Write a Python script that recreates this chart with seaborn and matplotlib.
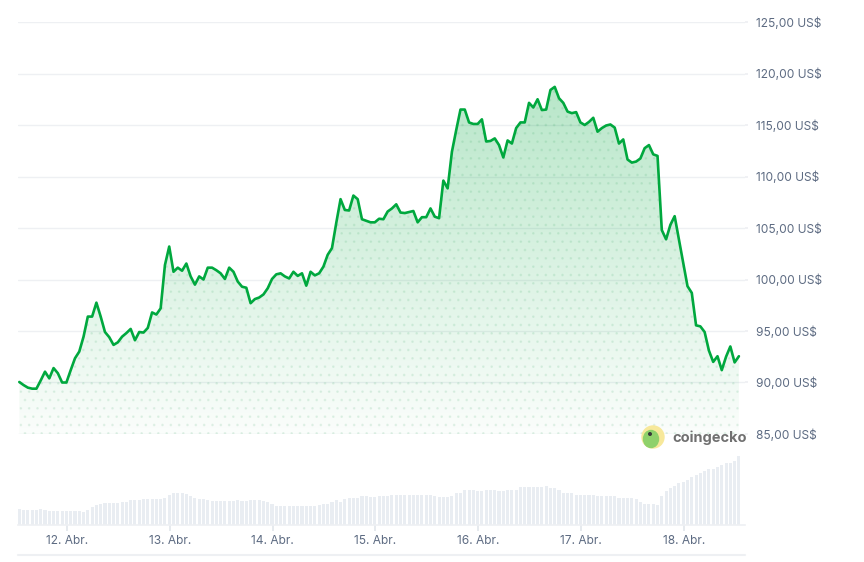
import numpy as np
import pandas as pd
import matplotlib
matplotlib.use("Agg")
import matplotlib.pyplot as plt
import seaborn as sns
from matplotlib.patches import Circle, Ellipse

# ---------------- data ----------------
start_day = 11.536  # day of April of the first hourly sample
price = [
    90.05, 89.75, 89.5, 89.4, 89.4, 90.2, 91.05, 90.4, 91.4, 90.9,
    90.0, 90.0, 91.2, 92.35, 93.0, 94.45, 96.4, 96.4, 97.75, 96.4,
    94.9, 94.4, 93.65, 93.9, 94.45, 94.8, 95.2, 94.1, 94.9, 94.85,
    95.3, 96.8, 96.6, 97.2, 101.4, 103.2, 100.75, 101.15, 100.85, 101.55,
    100.3, 99.5, 100.3, 100.0, 101.15, 101.15, 100.9, 100.6, 100.05, 101.15,
    100.75, 99.8, 99.3, 99.2, 97.7, 98.1, 98.25, 98.55, 99.15, 100.05,
    100.5, 100.6, 100.3, 100.1, 100.75, 100.35, 100.6, 99.4, 100.75, 100.4,
    100.6, 101.25, 102.4, 103.05, 105.5, 107.8, 106.75, 106.7, 108.15, 107.8,
    105.85, 105.7, 105.55, 105.55, 105.9, 105.85, 106.6, 106.9, 107.3, 106.5,
    106.45, 106.55, 106.65, 105.55, 106.05, 106.05, 106.9, 106.1, 105.95, 109.6,
    108.85, 112.4, 114.5, 116.5, 116.5, 115.25, 115.1, 115.1, 115.55, 113.4,
    113.45, 113.7, 113.05, 111.85, 113.5, 113.2, 114.7, 115.25, 115.25, 117.15,
    116.7, 117.5, 116.45, 116.5, 118.4, 118.7, 117.6, 117.15, 116.3, 116.15,
    116.25, 115.25, 115.0, 115.3, 115.7, 114.35, 114.7, 114.95, 115.05, 114.75,
    113.2, 113.6, 111.65, 111.35, 111.45, 111.75, 112.75, 113.05, 112.15, 112.0,
    104.8, 103.9, 105.3, 106.15, 103.9, 101.7, 99.35, 98.7, 95.55, 95.45,
    94.9, 93.1, 92.0, 92.55, 91.2, 92.5, 93.5, 91.95, 92.55,
]
volume = [
    16, 15, 15, 15, 15, 16, 15, 14, 14, 14,
    14, 14, 14, 14, 14, 13, 15, 18, 20, 21,
    22, 22, 22, 22, 23, 23, 25, 25, 25, 26,
    26, 26, 26, 26, 27, 30, 32, 32, 32, 31,
    29, 27, 26, 26, 25, 24, 24, 24, 24, 24,
    24, 25, 24, 24, 25, 25, 25, 24, 23, 21,
    19, 19, 19, 19, 19, 19, 19, 19, 19, 19,
    20, 21, 21, 23, 25, 23, 26, 27, 27, 27,
    29, 29, 28, 28, 29, 29, 29, 30, 30, 30,
    30, 30, 30, 30, 30, 30, 30, 29, 28, 28,
    28, 29, 32, 32, 35, 35, 35, 34, 34, 35,
    35, 35, 34, 34, 35, 35, 35, 38, 38, 38,
    38, 38, 38, 39, 37, 37, 35, 32, 32, 32,
    30, 30, 30, 30, 30, 29, 29, 29, 29, 29,
    27, 27, 27, 27, 26, 23, 21, 21, 21, 20,
    29, 34, 37, 39, 42, 43, 45, 48, 50, 52,
    54, 56, 56, 58, 60, 62, 62, 64, 69,
]
day_ticks = [12, 13, 14, 15, 16, 17, 18]
day_labels = ["12. Abr.", "13. Abr.", "14. Abr.", "15. Abr.", "16. Abr.", "17. Abr.", "18. Abr."]
price_ticks = [85, 90, 95, 100, 105, 110, 115, 120, 125]
price_labels = ["85,00 US$", "90,00 US$", "95,00 US$", "100,00 US$", "105,00 US$",
                "110,00 US$", "115,00 US$", "120,00 US$", "125,00 US$"]

n = min(len(price), len(volume))
t = start_day + np.arange(n) / 24.0
df = pd.DataFrame({"t": t, "price": price[:n], "volume": volume[:n]})

# ---------------- styling ----------------
sns.set_theme(style="white")
plt.rcParams["font.family"] = ["Inter", "DejaVu Sans"]
plt.rcParams["hatch.linewidth"] = 0.8

GREEN = "#00a83e"
LABEL = "#5d6b82"
GRID = "#eef0f3"

W, H = 864, 562
fig = plt.figure(figsize=(W / 100, H / 100), dpi=100)


def frame(l, top, r, bottom):
    return [l / W, 1 - bottom / H, (r - l) / W, (bottom - top) / H]


ax = fig.add_axes(frame(18, 22, 745, 434))
axv = fig.add_axes(frame(18, 434, 745, 525))
xlim = (12 - 49 / 102.8, 12 + 678 / 102.8)

# ---------------- price panel ----------------
poly = ax.fill_between(df["t"], df["price"], 85, color="none", lw=0)
grad = np.zeros((256, 1, 4))
grad[..., 0] = 0 / 255
grad[..., 1] = 168 / 255
grad[..., 2] = 62 / 255
grad[..., 3] = np.linspace(0.30, 0.02, 256)[:, None]
im = ax.imshow(grad, extent=[t[0], t[-1], 85, 121], aspect="auto", origin="upper", zorder=1)
im.set_clip_path(poly.get_paths()[0], transform=ax.transData)
ax.fill_between(df["t"], df["price"], 85, facecolor="none",
                edgecolor=(0.0, 0.55, 0.22, 0.07), hatch="..", lw=0, zorder=1.5)

sns.lineplot(data=df, x="t", y="price", ax=ax, color=GREEN, linewidth=1.9, zorder=3)
for line in ax.get_lines():
    line.set_solid_joinstyle("round")

ax.set_xlim(xlim)
ax.set_ylim(85, 125)
ax.set_yticks(price_ticks)
ax.set_yticklabels(price_labels)
ax.set_xticks([])
ax.yaxis.tick_right()
ax.tick_params(axis="y", right=True, left=False, length=2, color=GRID, pad=6,
               labelsize=8.6, labelcolor=LABEL)
ax.grid(axis="y", color=GRID, lw=1.0)
ax.grid(axis="x", visible=False)
ax.set_xlabel("")
ax.set_ylabel("")
for s in ax.spines.values():
    s.set_visible(False)
ax.set_facecolor("none")

# ---------------- volume panel ----------------
sns.barplot(data=df, x="t", y="volume", ax=axv, native_scale=True,
            color="#e9edf2", saturation=1, width=0.72, edgecolor="none")
axv.set_xlim(xlim)
axv.set_ylim(0, 91)
axv.set_yticks([])
axv.set_xticks(day_ticks)
axv.set_xticklabels(day_labels)
axv.tick_params(axis="x", bottom=True, length=4, color="#e3e7ec", pad=3,
                labelsize=8.6, labelcolor=LABEL)
axv.set_xlabel("")
axv.set_ylabel("")
for k, s in axv.spines.items():
    s.set_visible(k == "bottom")
axv.spines["bottom"].set_color(GRID)
axv.spines["bottom"].set_linewidth(1.2)
axv.set_facecolor("none")

# ---------------- overlay: watermark + navigator line ----------------
ov = fig.add_axes([0, 0, 1, 1])
ov.set_xlim(0, W)
ov.set_ylim(H, 0)
ov.axis("off")
ov.set_facecolor("none")
ov.plot([18, 745], [555, 555], color="#eef0f3", lw=1.5)
ov.add_patch(Circle((653, 437), 11, color="#f7e89a", zorder=5))
ov.add_patch(Ellipse((651, 439), 15, 17, color="#8fd16b", zorder=6))
ov.add_patch(Circle((650, 434), 1.3, color="#3a3a3a", zorder=7))
ov.text(672, 437.5, "coingecko", fontsize=10.5, fontweight="bold", color="#707070",
        va="center", ha="left", zorder=7)

fig.savefig("out.png", dpi=100)
